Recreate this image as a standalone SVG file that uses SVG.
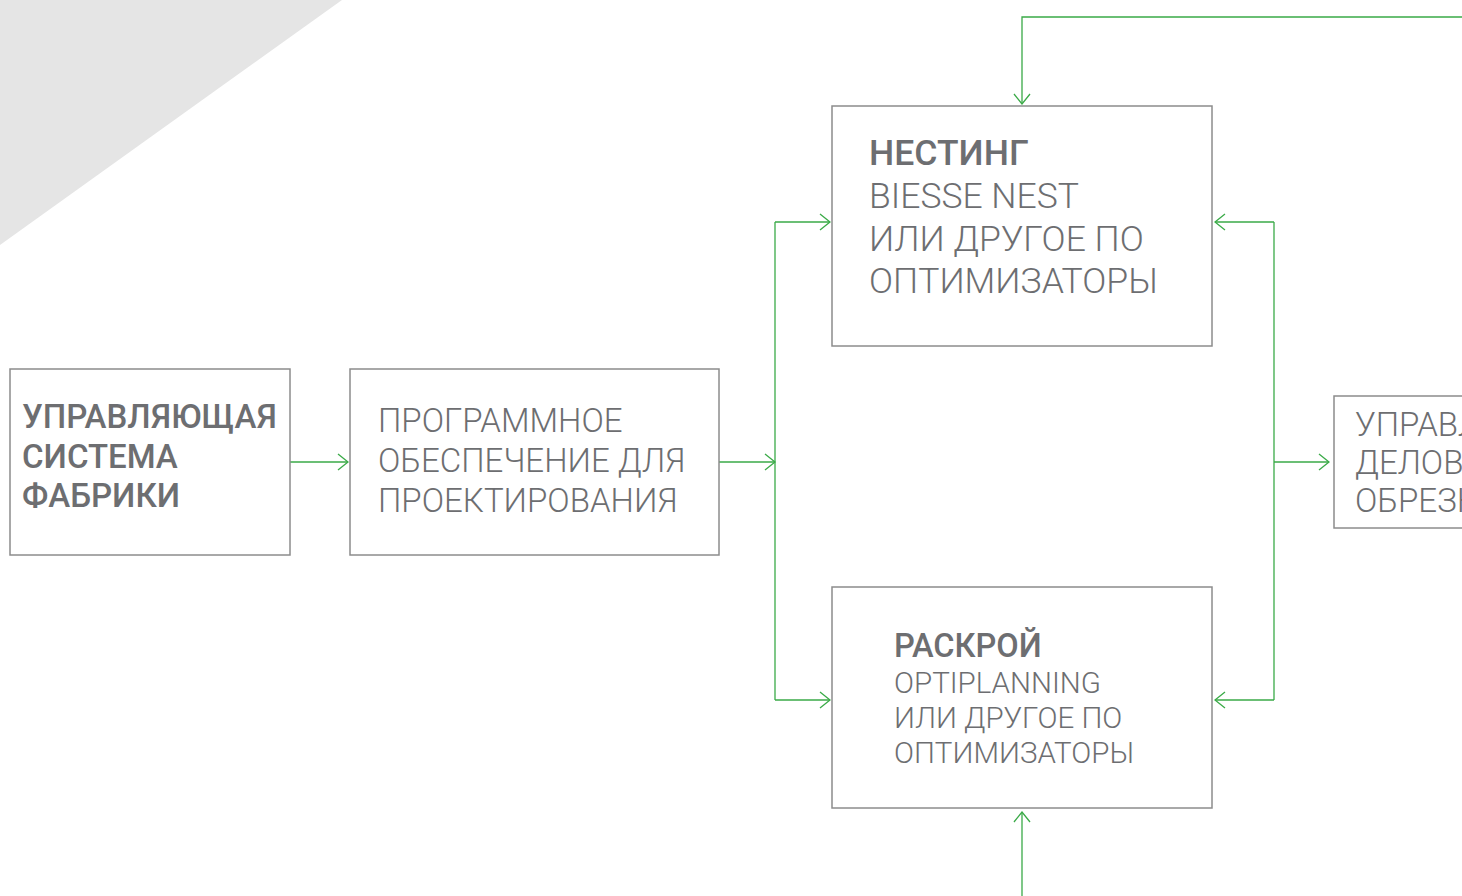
<svg xmlns="http://www.w3.org/2000/svg" width="1462" height="896" viewBox="0 0 1462 896">
<defs>
<marker id="ah" markerWidth="12" markerHeight="18" refX="11" refY="9" orient="auto" markerUnits="userSpaceOnUse">
<path d="M1,1 L11,9 L1,17" fill="none" stroke="#3aaa47" stroke-width="1.3"/>
</marker>
</defs>
<style>
.box{fill:#fff;stroke:#8c8c8c;stroke-width:1.5}
.t{fill:#6d6e71}
.b{font-family:"Roboto Medium",Roboto,"Liberation Sans",sans-serif;font-weight:500}
.l{font-family:"Roboto Light",Roboto,"Liberation Sans",sans-serif;font-weight:300}
.c{fill:none;stroke:#3aaa47;stroke-width:1.3}
</style>
<polygon points="0,0 342,0 0,245" fill="#e5e5e5"/>
<g id="connectors">
<path class="c" d="M290,462 H348" marker-end="url(#ah)"/>
<path class="c" d="M719,462 H775" marker-end="url(#ah)"/>
<path class="c" d="M775,222 V700"/>
<path class="c" d="M775,222 H830" marker-end="url(#ah)"/>
<path class="c" d="M775,700 H830" marker-end="url(#ah)"/>
<path class="c" d="M1274,222 V700"/>
<path class="c" d="M1274,222 H1215" marker-end="url(#ah)"/>
<path class="c" d="M1274,700 H1215" marker-end="url(#ah)"/>
<path class="c" d="M1274,462 H1329" marker-end="url(#ah)"/>
<path class="c" d="M1462,17 H1022 V104" marker-end="url(#ah)"/>
<path class="c" d="M1022,896 V812" marker-end="url(#ah)"/>
</g>
<g id="node-factory">
<rect class="box" x="10" y="369" width="280" height="186"/>
<text class="t b" font-size="33"><tspan x="22" y="428">УПРАВЛЯЮЩАЯ</tspan><tspan x="22" y="467.5">СИСТЕМА</tspan><tspan x="22" y="507">ФАБРИКИ</tspan></text>
</g>
<g id="node-cad">
<rect class="box" x="350" y="369" width="369" height="186"/>
<text class="t l" font-size="33"><tspan x="378" y="432">ПРОГРАММНОЕ</tspan><tspan x="378" y="472">ОБЕСПЕЧЕНИЕ ДЛЯ</tspan><tspan x="378" y="512">ПРОЕКТИРОВАНИЯ</tspan></text>
</g>
<g id="node-nesting">
<rect class="box" x="832" y="106" width="380" height="240"/>
<text class="t" font-size="35.5"><tspan class="b" x="869" y="165">НЕСТИНГ</tspan><tspan class="l" x="869" y="207.5">BIESSE NEST</tspan><tspan class="l" x="869" y="250.5">ИЛИ ДРУГОЕ ПО</tspan><tspan class="l" x="869" y="293">ОПТИМИЗАТОРЫ</tspan></text>
</g>
<g id="node-cutting">
<rect class="box" x="832" y="587" width="380" height="221"/>
<text class="t" font-size="29.5"><tspan class="b" font-size="32.5" x="894" y="657">РАСКРОЙ</tspan><tspan class="l" x="894" y="693">OPTIPLANNING</tspan><tspan class="l" x="894" y="728">ИЛИ ДРУГОЕ ПО</tspan><tspan class="l" x="894" y="763">ОПТИМИЗАТОРЫ</tspan></text>
</g>
<g id="node-offcuts">
<rect class="box" x="1334" y="396" width="140" height="132"/>
<text class="t l" font-size="33"><tspan x="1355" y="436">УПРАВЛЕНИЕ</tspan><tspan x="1355" y="474">ДЕЛОВЫМИ</tspan><tspan x="1355" y="512">ОБРЕЗКАМИ</tspan></text>
</g>
</svg>
